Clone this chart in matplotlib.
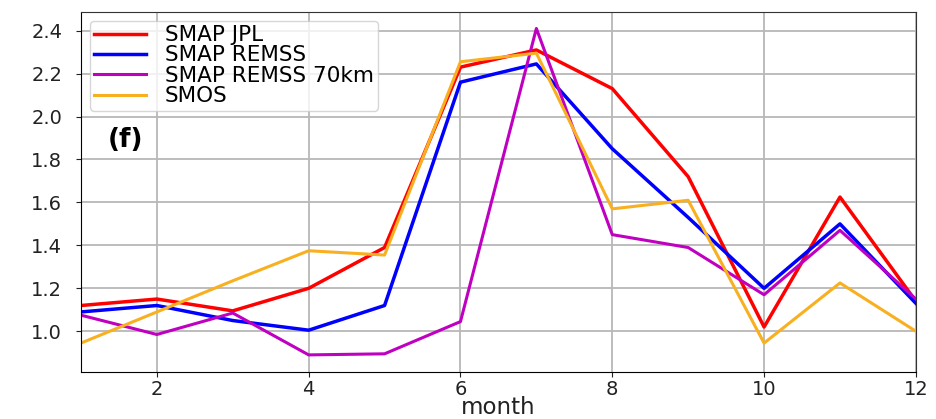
import matplotlib
matplotlib.use("Agg")
import matplotlib.pyplot as plt

months = [1, 2, 3, 4, 5, 6, 7, 8, 9, 10, 11, 12]

smap_jpl = [1.12, 1.15, 1.095, 1.20, 1.39, 2.23, 2.31, 2.13, 1.72, 1.02, 1.625, 1.14]
smap_remss = [1.09, 1.12, 1.05, 1.005, 1.12, 2.16, 2.245, 1.85, 1.53, 1.20, 1.50, 1.13]
smap_remss_70km = [1.075, 0.985, 1.085, 0.89, 0.895, 1.045, 2.41, 1.45, 1.39, 1.17, 1.47, 1.15]
smos = [0.945, 1.09, 1.235, 1.375, 1.355, 2.255, 2.295, 1.57, 1.61, 0.945, 1.225, 1.0]

series_labels = ["SMAP JPL", "SMAP REMSS", "SMAP REMSS 70km", "SMOS"]
x_ticks = [2, 4, 6, 8, 10, 12]
y_ticks = [1.0, 1.2, 1.4, 1.6, 1.8, 2.0, 2.2, 2.4]

fig = plt.figure(figsize=(9.36, 4.19), dpi=100)
ax = fig.add_axes([0.0865, 0.112, 0.892, 0.859])

ax.plot(months, smap_jpl, color="red", lw=2.5, label=series_labels[0])
ax.plot(months, smap_remss, color="blue", lw=2.5, label=series_labels[1])
ax.plot(months, smap_remss_70km, color="#c000c0", lw=2.2, label=series_labels[2])
ax.plot(months, smos, color="#f8b020", lw=2.2, label=series_labels[3])

ax.set_xlim(1, 12)
ax.set_ylim(0.81, 2.486)
ax.set_xticks(x_ticks)
ax.set_yticks(y_ticks)
ax.set_yticklabels([f"{v:.1f}" for v in y_ticks])
ax.tick_params(axis="both", labelsize=14, colors="#222222", labelcolor="#222222")
ax.tick_params(axis="y", pad=10)
ax.tick_params(axis="x", pad=2)
ax.grid(True, color="#b8b8b8", lw=1.3)
ax.set_axisbelow(True)
for side in ("top", "right"):
    ax.spines[side].set_color("#333333")
ax.set_xlabel("month", fontsize=16.5, labelpad=-2, color="#222222")

ax.legend(loc="upper left", fontsize=15.5, handlelength=2.4, handletextpad=0.9,
          labelspacing=0.02, borderaxespad=0.4, borderpad=0.2, framealpha=0.8)
ax.text(0.032, 0.645, "(f)", transform=ax.transAxes, fontsize=19,
        fontweight="bold", va="center", ha="left")

fig.savefig("out.png", dpi=100)
